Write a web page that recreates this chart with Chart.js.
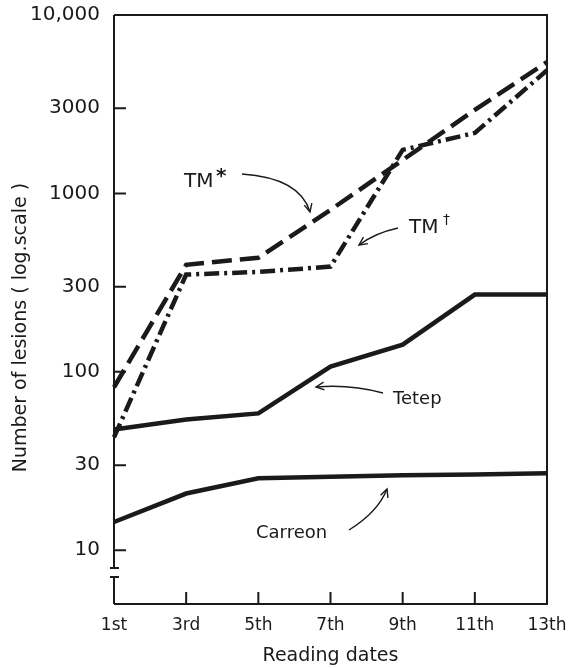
<!DOCTYPE html>
<html>
<head>
<meta charset="utf-8">
<script src="https://cdn.jsdelivr.net/npm/chart.js@4/dist/chart.umd.min.js"></script>
<style>
  html, body { margin: 0; padding: 0; background: #fff; }
  #wrap { width: 568px; height: 668px; }
</style>
</head>
<body>
<div id="wrap"><canvas id="c" width="568" height="668"></canvas></div>
<script>
// ---- data ----
const categories = ['1st', '3rd', '5th', '7th', '9th', '11th', '13th'];
const tmStar   = [82, 398, 436, 809, 1540, 2940, 5450];
const tmDagger = [43, 351, 363, 389, 1754, 2184, 4900];
const tetep    = [47.5, 54, 58.5, 107, 142, 271, 271];
const carreon  = [14.4, 20.8, 25.3, 25.8, 26.3, 26.6, 27];
const yTickValues = [10, 30, 100, 300, 1000, 3000, 10000];

const FONT = '"DejaVu Sans", sans-serif';
const INK = '#1a1a1a';

function arrowHead(ctx, x, y, fromX, fromY, size) {
  const a = Math.atan2(y - fromY, x - fromX);
  ctx.beginPath();
  ctx.moveTo(x - size * Math.cos(a - 0.45), y - size * Math.sin(a - 0.45));
  ctx.lineTo(x, y);
  ctx.lineTo(x - size * Math.cos(a + 0.45), y - size * Math.sin(a + 0.45));
  ctx.stroke();
}

const decorPlugin = {
  id: 'decor',
  afterDraw(chart) {
    const ctx = chart.ctx;
    const ca = chart.chartArea;
    const xs = chart.scales.x, ys = chart.scales.y;
    ctx.save();
    ctx.strokeStyle = INK;
    ctx.lineWidth = 2;
    ctx.lineCap = 'butt';
    // frame: top, right, bottom
    ctx.beginPath();
    ctx.moveTo(ca.left, ca.top);
    ctx.lineTo(ca.right, ca.top);
    ctx.lineTo(ca.right, ca.bottom);
    ctx.lineTo(ca.left, ca.bottom);
    ctx.stroke();
    // left axis with break
    const brk1 = 568, brk2 = 577;
    ctx.beginPath();
    ctx.moveTo(ca.left, ca.top);
    ctx.lineTo(ca.left, brk1);
    ctx.moveTo(ca.left - 4, brk1);
    ctx.lineTo(ca.left + 5, brk1);
    ctx.moveTo(ca.left - 4, brk2);
    ctx.lineTo(ca.left + 5, brk2);
    ctx.moveTo(ca.left, brk2);
    ctx.lineTo(ca.left, ca.bottom);
    ctx.stroke();
    // y ticks (inward)
    ctx.beginPath();
    yTickValues.forEach(v => {
      if (v >= 10000) return;
      const y = ys.getPixelForValue(v);
      ctx.moveTo(ca.left, y);
      ctx.lineTo(ca.left + 12, y);
    });
    // x ticks (inward)
    categories.forEach((c, i) => {
      if (i === 0 || i === categories.length - 1) return;
      const x = xs.getPixelForValue(i);
      ctx.moveTo(x, ca.bottom);
      ctx.lineTo(x, ca.bottom - 12);
    });
    ctx.stroke();

    // annotations
    ctx.fillStyle = INK;
    ctx.textBaseline = 'alphabetic';
    ctx.textAlign = 'left';
    ctx.font = '20px ' + FONT;
    ctx.fillText('TM', 184, 187);
    ctx.font = 'bold 20px ' + FONT;
    ctx.fillText('*', 216, 182);
    ctx.font = '20px ' + FONT;
    ctx.fillText('TM', 409, 233);
    ctx.font = '14px ' + FONT;
    ctx.fillText('†', 443, 224);
    ctx.font = '18px ' + FONT;
    ctx.fillText('Tetep', 393, 404);
    ctx.fillText('Carreon', 256, 538);

    ctx.lineWidth = 1.4;
    // TM* arrow
    ctx.beginPath();
    ctx.moveTo(242, 174);
    ctx.quadraticCurveTo(300, 178, 310, 212);
    ctx.stroke();
    arrowHead(ctx, 310, 212, 305, 192, 9);
    // TM† arrow
    ctx.beginPath();
    ctx.moveTo(398, 228);
    ctx.quadraticCurveTo(375, 233, 359, 245);
    ctx.stroke();
    arrowHead(ctx, 359, 245, 372, 236, 9);
    // Tetep arrow
    ctx.beginPath();
    ctx.moveTo(383, 393);
    ctx.quadraticCurveTo(350, 384, 316, 387);
    ctx.stroke();
    arrowHead(ctx, 316, 387, 332, 385, 9);
    // Carreon arrow
    ctx.beginPath();
    ctx.moveTo(349, 530);
    ctx.quadraticCurveTo(378, 512, 387, 489);
    ctx.stroke();
    arrowHead(ctx, 387, 489, 382, 503, 9);
    ctx.restore();
  }
};

const lineCommon = {
  borderColor: INK,
  borderWidth: 4.5,
  pointRadius: 0,
  tension: 0,
  fill: false,
  borderCapStyle: 'butt',
  borderJoinStyle: 'miter'
};

new Chart(document.getElementById('c'), {
  type: 'line',
  data: {
    labels: categories,
    datasets: [
      Object.assign({ label: 'TM*', data: tmStar, borderDash: [20, 8] }, lineCommon),
      Object.assign({ label: 'TM†', data: tmDagger, borderDash: [15, 5, 3, 5] }, lineCommon),
      Object.assign({ label: 'Tetep', data: tetep }, lineCommon),
      Object.assign({ label: 'Carreon', data: carreon }, lineCommon)
    ]
  },
  options: {
    responsive: false,
    animation: false,
    devicePixelRatio: 1,
    layout: { padding: { left: 0, top: 15, right: 21, bottom: 0 } },
    plugins: { legend: { display: false }, tooltip: { enabled: false } },
    scales: {
      x: {
        type: 'category',
        offset: false,
        grid: { display: false, drawTicks: false },
        border: { display: false },
        ticks: { color: INK, font: { family: FONT, size: 17 }, padding: 11, maxRotation: 0, autoSkip: false },
        title: { display: true, text: 'Reading dates', color: INK, font: { family: FONT, size: 19 }, padding: { top: 2, bottom: 1 } },
        afterFit(scale) {
          scale.height = 64;
          scale.paddingLeft = 0; scale.paddingRight = 0;
          scale.paddingTop = 0; scale.paddingBottom = 0;
        }
      },
      y: {
        type: 'logarithmic',
        min: 5,
        max: 10000,
        grid: { display: false, drawTicks: false },
        border: { display: false },
        afterBuildTicks(scale) { scale.ticks = yTickValues.map(v => ({ value: v })); },
        ticks: {
          color: INK,
          font: { family: FONT, size: 20 },
          padding: 14,
          callback: (v) => v === 10000 ? '10,000' : String(v)
        },
        title: { display: true, text: 'Number of lesions ( log.scale )      ', color: INK, font: { family: FONT, size: 19 }, padding: { top: 10, bottom: 4 } },
        afterFit(scale) {
          scale.width = 114;
          scale.paddingLeft = 0; scale.paddingRight = 0;
          scale.paddingTop = 0; scale.paddingBottom = 0;
        }
      }
    }
  },
  plugins: [decorPlugin]
});
</script>
</body>
</html>
